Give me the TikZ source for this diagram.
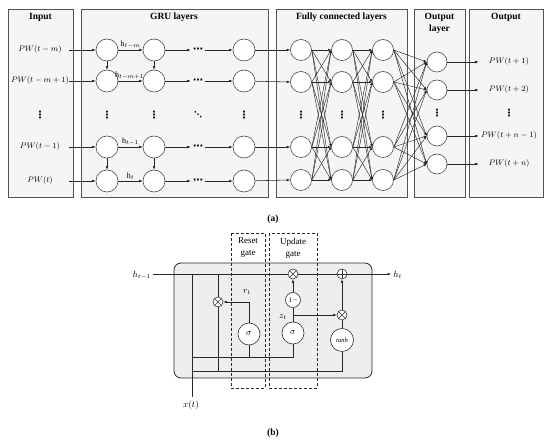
\documentclass[tikz,border=0pt]{standalone}
\usepackage{fontspec}
\setmainfont{Liberation Serif}
\newfontfamily\symfont{DejaVu Sans}
\usetikzlibrary{arrows.meta}
\begin{document}
\begin{tikzpicture}[x=1pt,y=-1pt,
 line width=0.55pt, draw=black!85,
 arr/.style={-{Latex[length=3.5pt,width=2.6pt]}},
 thinarr/.style={line width=0.45pt,-{Latex[length=3pt,width=2.4pt]}},
 panel/.style={draw=gray!65!black, fill=gray!8, line width=0.8pt},
 ttl/.style={font=\fontsize{9.5}{11.5}\selectfont\bfseries, align=center, inner sep=0pt},
 lbl/.style={font=\fontsize{8}{9.5}\selectfont, inner sep=0pt},
 glbl/.style={font=\fontsize{9}{12}\selectfont, inner sep=0pt, align=center},
 dots/.style={font=\fontsize{10}{12}\selectfont\symfont\bfseries, inner sep=0pt},
 hdots/.style={font=\fontsize{10}{12}\selectfont\symfont\bfseries, inner sep=0pt, inner xsep=2pt},
 hlbl/.style={above, font=\fontsize{8}{9.5}\selectfont, inner sep=1.5pt},
 inlbl/.style={lbl, minimum width=58pt},
 outlbl/.style={lbl, minimum width=60pt},
 neuron/.style={circle, draw=black!70, fill=white, minimum size=22pt, inner sep=0pt, line width=0.6pt},
 gatec/.style={circle, draw=black!80, fill=white, minimum size=22pt, inner sep=0pt, line width=0.6pt, font=\fontsize{9}{10}\selectfont},
 otimesn/.style={circle, draw=black!80, fill=white, minimum size=10pt, inner sep=0pt, line width=0.6pt,
   path picture={\draw[line width=0.5pt] (path picture bounding box.north west) -- (path picture bounding box.south east)
     (path picture bounding box.north east) -- (path picture bounding box.south west);}},
 oplusn/.style={circle, draw=black!80, fill=white, minimum size=10pt, inner sep=0pt, line width=0.6pt,
   path picture={\draw[line width=0.5pt] (path picture bounding box.north) -- (path picture bounding box.south)
     (path picture bounding box.east) -- (path picture bounding box.west);}},
 gatebox/.style={draw=black!85, dash pattern=on 3pt off 2pt, line width=0.8pt},
 figcap/.style={font=\fontsize{9.5}{11}\selectfont\bfseries, inner sep=0pt}
]
\useasboundingbox (0,0) rectangle (550,443);

% ---------------- (a) ----------------
\draw[panel] (8,9) rectangle (73,197);
\draw[panel] (81,9) rectangle (268,197);
\draw[panel] (276,9) rectangle (407,197);
\draw[panel] (414,9) rectangle (465,197);
\draw[panel] (469,9) rectangle (543,197);

\node[ttl] (t1) at (40.5,17) {Input};
\node[ttl] (t2) at (174,17) {GRU layers};
\node[ttl] (t3) at (341.5,17) {Fully connected layers};
\node[ttl] (t4) at (439.5,23.5) {Output\\layer};
\node[ttl] (t5) at (506,17) {Output};

% input labels
\node[inlbl] (in1) at (40,50) {$PW(t-m)$};
\node[inlbl] (in2) at (40,81) {$PW(t-m+1)$};
\node[dots] (ind) at (40,115) {⋮};
\node[inlbl] (in4) at (40,147) {$PW(t-1)$};
\node[inlbl] (in5) at (40,181) {$PW(t)$};

% GRU neurons
\foreach \r/\y in {1/50,2/81,4/147,5/181}{
  \foreach \c/\x in {1/107,2/154,3/244}{
    \node[neuron] (g\r\c) at (\x,\y) {};
  }
  \node[hdots] (d\r) at (198,\y) {⋯};
  \draw[arr] (in\r.east) -- (g\r1);
  \draw[arr] (g\r2) -- (d\r.west);
  \draw[arr] (d\r.east) -- (g\r3);
}
\draw[arr] (g11) -- node[hlbl] {$\mathrm{h}_{t-m}$} (g12);
\draw[arr] (g21) -- node[hlbl, xshift=-1pt] {$\mathrm{h}_{t-m+1}$} (g22);
\draw[arr] (g41) -- node[hlbl] {$\mathrm{h}_{t-1}$} (g42);
\draw[arr] (g51) -- node[hlbl] {$\mathrm{h}_{t}$} (g52);
\draw[arr] (g11) -- (g21);
\draw[arr] (g12) -- (g22);
\draw[arr] (g41) -- (g51);
\draw[arr] (g42) -- (g52);
\node[dots] (gd1) at (107,115) {⋮};
\node[dots] (gd2) at (154,115) {⋮};
\node[dots, font=\fontsize{8}{10}\selectfont\symfont\bfseries] (gd3) at (198,115) {⋱};
\node[dots] (gd4) at (244,115) {⋮};

% FC neurons
\foreach \c/\x in {1/301,2/342,3/383}{
  \foreach \r/\y in {1/50,2/82,3/147,4/180}{
    \node[neuron, minimum size=21pt] (f\c\r) at (\x,\y) {};
  }
  \node[dots] (fd\c) at (\x,115) {⋮};
}
% output layer neurons
\foreach \r/\y in {1/62,2/90,3/136,4/164}{
  \node[neuron, minimum size=20pt] (o\r) at (437,\y) {};
}
\node[dots] (od) at (437,113) {⋮};

\draw[arr] (g13) -- (f11.west);
\draw[arr] (g23) -- (f12.west);
\draw[arr] (g43) -- (f13.west);
\draw[arr] (g53) -- (f14.west);

\foreach \a in {1,...,4}{
  \foreach \b in {1,...,4}{
    \draw[thinarr] (f1\a.east) -- (f2\b.west);
    \draw[thinarr] (f2\a.east) -- (f3\b.west);
    \draw[thinarr] (f3\a.east) -- (o\b.west);
  }
}

% output labels
\node[outlbl] (p1) at (509,62) {$PW(t+1)$};
\node[outlbl] (p2) at (509,90) {$PW(t+2)$};
\node[dots] (pd) at (509,113) {⋮};
\node[outlbl] (p3) at (509,136) {$PW(t+n-1)$};
\node[outlbl] (p4) at (509,164) {$PW(t+n)$};
\foreach \r in {1,...,4}{ \draw[arr] (o\r) -- (p\r.west); }

\node[figcap] (capa) at (273,219) {(a)};

% ---------------- (b) ----------------
\draw[draw=black!85, fill=gray!13, rounded corners=7pt, line width=0.8pt] (174,263) rectangle (372,378);

\node[lbl, font=\fontsize{9}{10}\selectfont, anchor=east, inner xsep=2pt] (hin) at (153,275) {$h_{t-1}$};
\node[lbl, font=\fontsize{9}{10}\selectfont, anchor=west, inner xsep=2pt] (hout) at (391,275) {$h_t$};
\node[otimesn] (m1) at (293,274) {};
\node[oplusn] (pl) at (342,274) {};
\draw (hin.east |- m1) -- (m1);
\draw (m1) -- (pl);
\draw[arr] (pl) -- (hout.west |- pl);

\node[lbl, font=\fontsize{9}{10}\selectfont, inner ysep=3pt] (xt) at (191,405) {$x(t)$};
\coordinate (a1) at (192,274);
\draw (a1) -- (a1 |- xt.north);

\node[otimesn] (mr) at (218,302) {};
\coordinate (a2) at (218,274);
\coordinate (b2) at (218,371);
\draw (a2) -- (mr);
\draw (mr) -- (b2);

\node[gatec] (sr) at (249,334) {$\sigma$};
\node[gatec] (su) at (293,333) {$\sigma$};
\node[gatec, minimum size=23pt, font=\fontsize{6.5}{7}\selectfont\itshape] (th) at (342,340) {tanh};
\node[gatec, minimum size=15pt, font=\fontsize{7}{8}\selectfont] (om) at (293,300) {1\,−};
\node[otimesn] (mz) at (342,315) {};

\coordinate (b1) at (192,357);
\coordinate (b3) at (192,371);
\draw[arr] (sr.north) |- (mr.east);
\node[lbl, font=\fontsize{9}{10}\selectfont] (rt) at (247,292) {$r_t$};
\draw (sr.south) -- (sr.south |- b1);
\draw (b1) -| (su.south);
\draw (b3) -| (th.south);
\draw (su.north) -- (om.south);
\draw[arr] (om.north) -- (m1.south);
\coordinate (zb) at (293,315);
\node[lbl, font=\fontsize{9}{10}\selectfont] (zt) at (283,317) {$z_t$};
\draw[arr] (zb) -- (mz.west);
\draw (th.north) -- (mz.south);
\draw[arr] (mz.north) -- (pl.south);

\draw[gatebox] (231,233) rectangle (265,388);
\draw[gatebox] (269,233) rectangle (317,388);
\node[glbl] (rg) at (248,248) {Reset\\gate};
\node[glbl] (ug) at (293,248) {Update\\gate};

\node[figcap] (capb) at (273,433) {(b)};
\end{tikzpicture}
\end{document}
